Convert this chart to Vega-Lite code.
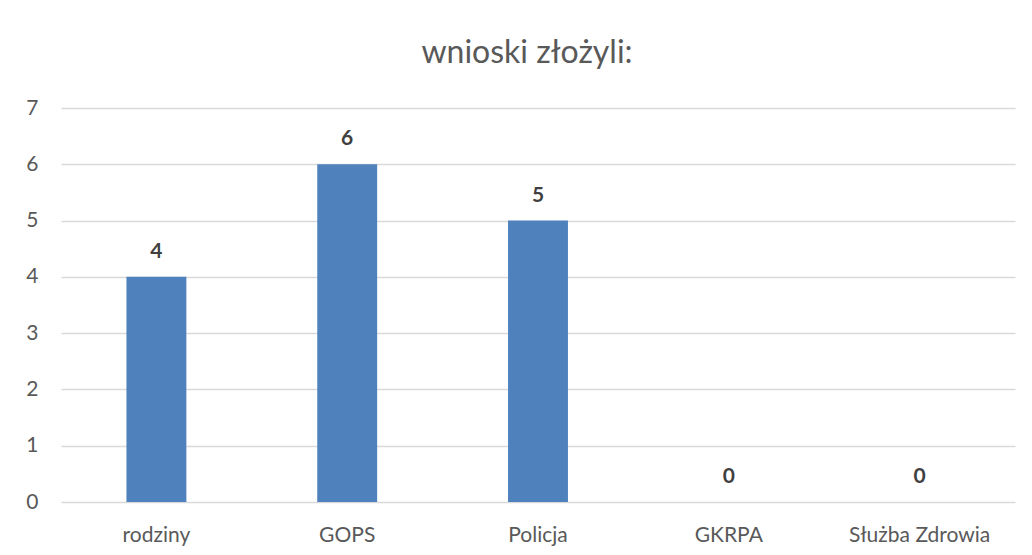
{
  "$schema": "https://vega.github.io/schema/vega-lite/v6.json",
  "width": 954,
  "height": 394,
  "autosize": {"type": "none"},
  "padding": {"left": 61, "top": 108, "right": 17, "bottom": 53},
  "background": "white",
  "title": {
    "text": "wnioski złożyli:",
    "font": "Lato",
    "fontSize": 32,
    "fontWeight": "normal",
    "color": "#595959",
    "anchor": "middle",
    "dx": -11,
    "offset": 27
  },
  "data": {
    "values": [
      {"kategoria": "rodziny", "wartosc": 4},
      {"kategoria": "GOPS", "wartosc": 6},
      {"kategoria": "Policja", "wartosc": 5},
      {"kategoria": "GKRPA", "wartosc": 0},
      {"kategoria": "Służba Zdrowia", "wartosc": 0}
    ]
  },
  "encoding": {
    "x": {
      "field": "kategoria",
      "type": "nominal",
      "sort": null,
      "scale": {"paddingInner": 0.686, "paddingOuter": 0.343},
      "axis": {
        "title": null,
        "labelAngle": 0,
        "domain": false,
        "ticks": false,
        "labelPadding": 22,
        "labelFont": "Lato",
        "labelFontSize": 21,
        "labelColor": "#595959"
      }
    },
    "y": {
      "field": "wartosc",
      "type": "quantitative",
      "scale": {"domain": [0, 7], "nice": false},
      "axis": {
        "title": null,
        "values": [0, 1, 2, 3, 4, 5, 6, 7],
        "domain": false,
        "ticks": false,
        "labelPadding": 23,
        "labelFont": "Lato",
        "labelFontSize": 21,
        "labelColor": "#595959",
        "gridColor": "#D9D9D9",
        "gridWidth": 1.3
      }
    }
  },
  "layer": [
    {"mark": {"type": "bar", "color": "#4F81BD"}},
    {
      "mark": {
        "type": "text",
        "baseline": "bottom",
        "dy": -15,
        "font": "Lato",
        "fontSize": 21,
        "fontWeight": "bold",
        "color": "#404040"
      },
      "encoding": {"text": {"field": "wartosc", "type": "quantitative"}}
    }
  ],
  "config": {"view": {"stroke": null}}
}
